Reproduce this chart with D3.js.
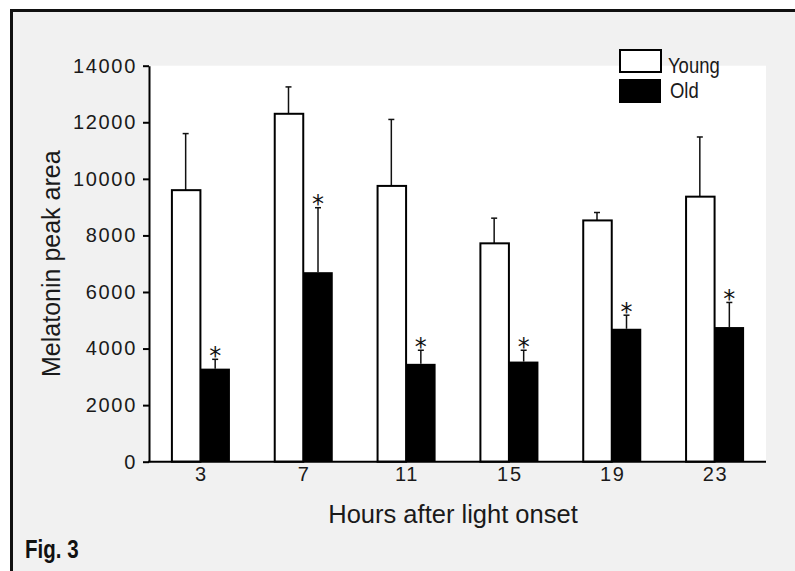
<!DOCTYPE html>
<html>
<head>
<meta charset="utf-8">
<script src="https://cdn.jsdelivr.net/npm/d3@7.9.0/dist/d3.min.js"></script>
<style>
  body { margin: 0; background: #fff; }
  svg { display: block; }
</style>
</head>
<body>
<div id="chart"></div>
<script>
// values
const hours = ['3', '7', '11', '15', '19', '23'];
const groups = ['Young', 'Old'];
const young = [9600, 12300, 9750, 7720, 8530, 9370];
const youngErr = [2000, 950, 2350, 890, 280, 2110];
const old = [3290, 6700, 3460, 3540, 4700, 4760];
const oldErr = [330, 2280, 480, 400, 480, 870];
const significant = [true, true, true, true, true, true]; // * on the Old bars
const yTicks = [0, 2000, 4000, 6000, 8000, 10000, 12000, 14000];

const width = 795;
const height = 571;

const svg = d3.select('#chart')
  .append('svg')
  .attr('width', width)
  .attr('height', height);

// grey panel with thick frame (runs off the right / bottom edge)
svg.append('rect')
  .attr('x', 11.5).attr('y', 10.5)
  .attr('width', 820).attr('height', 620)
  .attr('fill', '#f1f1f1')
  .attr('stroke', '#111')
  .attr('stroke-width', 3);

const plot = { left: 149, right: 766, top: 65.7, bottom: 461.7 };

const x = d3.scaleBand()
  .domain(hours)
  .range([plot.left, plot.right])
  .paddingInner(0.426)
  .paddingOuter(0.213);

const xSub = d3.scaleBand()
  .domain(groups)
  .range([0, x.bandwidth()]);

const y = d3.scaleLinear()
  .domain([0, 14000])
  .range([plot.bottom, plot.top]);

// white plotting area
svg.append('rect')
  .attr('x', plot.left + 1).attr('y', plot.top)
  .attr('width', plot.right - plot.left - 1)
  .attr('height', plot.bottom - plot.top)
  .attr('fill', '#fff');

const rows = hours.map((h, i) => ({
  hour: h,
  values: [
    { group: 'Young', value: young[i], err: youngErr[i], star: false },
    { group: 'Old', value: old[i], err: oldErr[i], star: significant[i] },
  ],
}));

const g = svg.append('g')
  .selectAll('g')
  .data(rows)
  .join('g')
  .attr('transform', (d) => `translate(${x(d.hour)},0)`);

const cells = g.selectAll('g')
  .data((d) => d.values)
  .join('g');

const mid = (d) => xSub(d.group) + xSub.bandwidth() / 2;

// error bars (upper only)
cells.append('line')
  .attr('x1', mid)
  .attr('x2', mid)
  .attr('y1', (d) => y(d.value))
  .attr('y2', (d) => y(d.value + d.err))
  .attr('stroke', '#111')
  .attr('stroke-width', 1.5);

cells.append('line')
  .attr('x1', (d) => mid(d) - 3)
  .attr('x2', (d) => mid(d) + 3)
  .attr('y1', (d) => y(d.value + d.err))
  .attr('y2', (d) => y(d.value + d.err))
  .attr('stroke', '#111')
  .attr('stroke-width', 1.5);

cells.append('rect')
  .attr('x', (d) => xSub(d.group) + (d.group === 'Young' ? 1 : 0))
  .attr('y', (d) => y(d.value))
  .attr('width', (d) => xSub.bandwidth() - (d.group === 'Young' ? 1 : 0))
  .attr('height', (d) => y(0) - y(d.value))
  .attr('fill', (d) => (d.group === 'Young' ? '#fff' : '#000'))
  .attr('stroke', '#000')
  .attr('stroke-width', (d) => (d.group === 'Young' ? 2 : 0));

// significance stars
cells.filter((d) => d.star)
  .append('text')
  .attr('x', mid)
  .attr('y', (d) => y(d.value + d.err) + 4.5)
  .attr('text-anchor', 'middle')
  .attr('font-family', 'DejaVu Sans')
  .attr('font-size', 24)
  .attr('fill', '#111')
  .text('*');

// axes
const tickFont = (sel) => sel
  .attr('font-family', '"Liberation Sans", Arial, sans-serif')
  .attr('font-size', 20)
  .attr('letter-spacing', '1.7px')
  .attr('fill', '#1a1a1a');

const yAxis = svg.append('g')
  .attr('transform', `translate(${plot.left},0)`)
  .call(d3.axisLeft(y).tickValues(yTicks).tickFormat(d3.format('d'))
    .tickSize(6).tickPadding(6).tickSizeOuter(0));
yAxis.select('.domain').attr('stroke', '#000').attr('stroke-width', 2);
yAxis.selectAll('.tick line').attr('stroke', '#000').attr('stroke-width', 2);
yAxis.selectAll('.tick text').call(tickFont);

const xAxis = svg.append('g')
  .attr('transform', `translate(0,${plot.bottom})`)
  .call(d3.axisBottom(x).tickSize(0).tickPadding(5).tickSizeOuter(0));
xAxis.select('.domain')
  .attr('d', `M${plot.left - 1},0H${plot.right}`)
  .attr('stroke', '#000').attr('stroke-width', 2);
xAxis.selectAll('.tick text').call(tickFont).attr('dx', 1);

// axis titles
svg.append('text')
  .attr('transform', `translate(60,${(plot.top + plot.bottom) / 2}) rotate(-90)`)
  .attr('text-anchor', 'middle')
  .attr('font-family', '"Liberation Sans", Arial, sans-serif')
  .attr('font-size', 25)
  .attr('fill', '#1a1a1a')
  .text('Melatonin peak area');

svg.append('text')
  .attr('x', 453)
  .attr('y', 523)
  .attr('text-anchor', 'middle')
  .attr('font-family', '"Liberation Sans", Arial, sans-serif')
  .attr('font-size', 25.5)
  .attr('fill', '#1a1a1a')
  .text('Hours after light onset');

// legend
const legend = svg.append('g').attr('transform', 'translate(620,50)');
legend.selectAll('rect')
  .data(groups)
  .join('rect')
  .attr('x', (d, i) => (i === 0 ? 0 : -1))
  .attr('y', (d, i) => (i === 0 ? 0 : 29))
  .attr('width', (d, i) => (i === 0 ? 41 : 42))
  .attr('height', (d, i) => (i === 0 ? 22 : 24))
  .attr('fill', (d) => (d === 'Young' ? '#fff' : '#000'))
  .attr('stroke', '#000')
  .attr('stroke-width', (d) => (d === 'Young' ? 2 : 0));
// condensed look: squeeze the regular face horizontally
legend.selectAll('text')
  .data(groups)
  .join('text')
  .attr('transform', (d, i) => (i === 0 ? 'translate(48,23) scale(0.84,1)' : 'translate(50,48) scale(0.84,1)'))
  .attr('font-family', '"Liberation Sans", sans-serif')
  .attr('font-size', 22)
  .attr('fill', '#1a1a1a')
  .text((d) => d);

// figure label
svg.append('text')
  .attr('transform', 'translate(25,558) scale(0.82,1)')
  .attr('font-family', '"Liberation Sans", sans-serif')
  .attr('font-weight', 'bold')
  .attr('font-size', 25)
  .attr('fill', '#111')
  .text('Fig. 3');
</script>
</body>
</html>
